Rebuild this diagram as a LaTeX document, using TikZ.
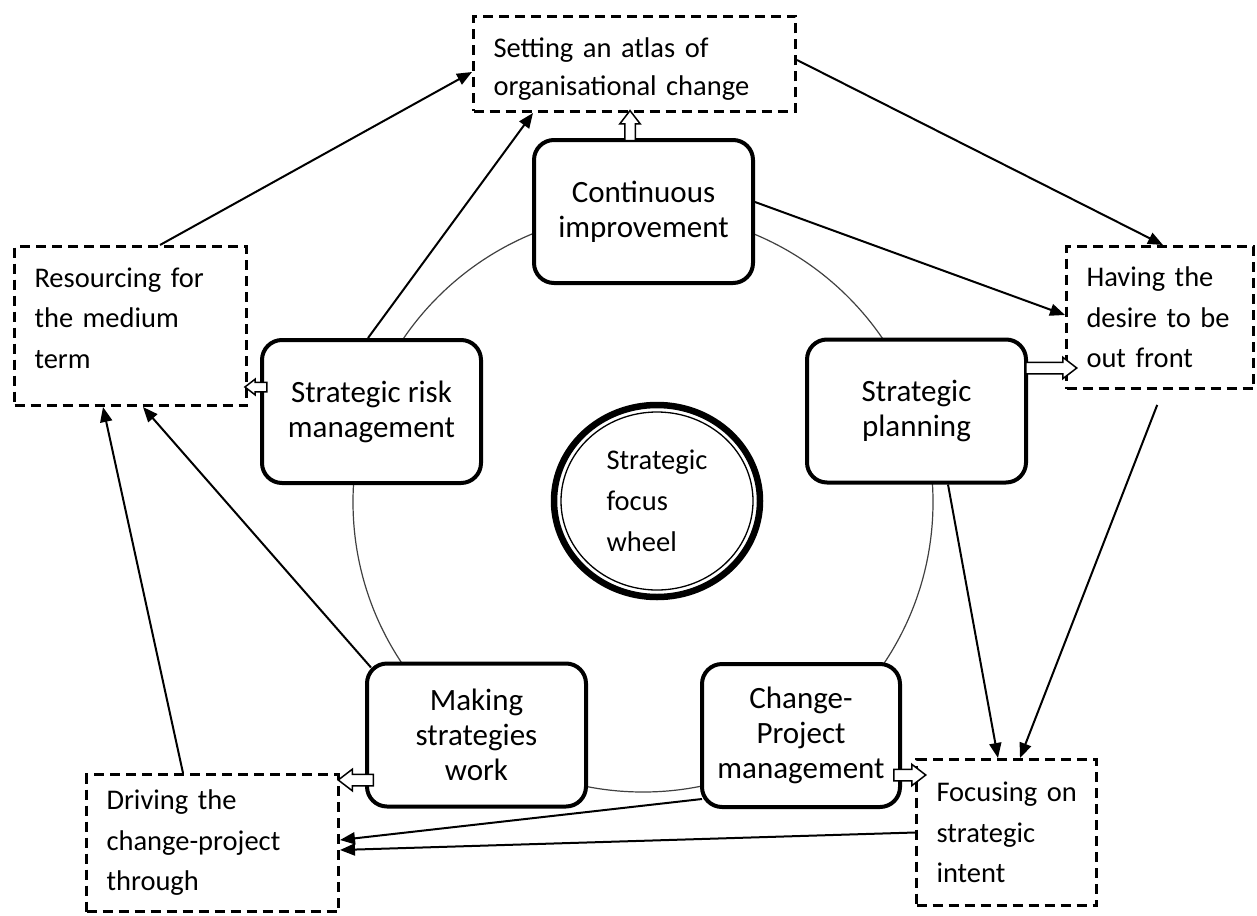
\documentclass[tikz,border=0pt]{standalone}
\usepackage{fontspec}
\setmainfont{Carlito}
\usetikzlibrary{arrows.meta,shapes.geometric,shapes.arrows,calc}
\begin{document}
\begin{tikzpicture}[x=1pt,y=-1pt,
  every node/.style={font=\fontsize{31}{35}\selectfont},
  rbox/.style={draw, line width=4pt, rounded corners=20pt, fill=white, align=center, minimum width=219pt, minimum height=143pt, inner sep=0pt},
  dbox/.style={draw, line width=3pt, dash pattern=on 10pt off 6pt, fill=white, align=left, inner xsep=20pt, inner ysep=0pt, font=\fontsize{28.5}{40.5}\selectfont},
  conn/.style={line width=2pt, -{Triangle[length=15pt,width=12pt]}},
  hollow/.style={single arrow, draw, line width=1.5pt, fill=white, inner xsep=0pt, inner ysep=5pt, single arrow head extend=5pt, single arrow tip angle=75, sloped, allow upside down, anchor=center, font=\fontsize{1}{1}\selectfont}
]
\useasboundingbox (0,0) rectangle (1257,915);

% wheel
\node[circle, draw, line width=1.2pt, draw=black!75, minimum size=580pt, inner sep=0pt] (wheel) at (643,502) {};

% central hub
\node[ellipse, draw, line width=6.5pt, minimum width=206pt, minimum height=192pt, align=left, font=\fontsize{28.5}{41}\selectfont, inner sep=0pt, fill=white] (hub) at (657,501) {Strategic\\focus\\wheel};
\draw[line width=1.3pt] (hub.center) ellipse [x radius=96pt, y radius=89pt];

% rounded boxes
\node[rbox] (cont) at (643.5,211.5) {Continuous\\improvement};
\node[rbox] (plan) at (916.5,411) {Strategic\\planning};
\node[rbox] (risk) at (371.5,411.5) {Strategic risk\\management};
\node[rbox] (mak) at (476.5,735) {Making\\strategies\\work};
\node[rbox, minimum width=198pt] (chg) at (801,735.5) {Change-\\Project\\management};

% dashed boxes
\node[dbox, text width=282pt, minimum height=95pt] (atlas) at (634.5,64) {\mbox{\rule{0pt}{30pt}Setting an atlas of}\\[-2pt]\mbox{organisational change}};
\node[dbox, text width=147pt, minimum height=142pt] (have) at (1160,317.5) {\mbox{Having the}\\\mbox{desire to be}\\\mbox{out front}};
\node[dbox, text width=140pt, minimum height=146pt] (focus) at (1006.5,832.5) {\mbox{Focusing on}\\\mbox{strategic}\\\mbox{intent}};
\node[dbox, text width=212pt, minimum height=137pt] (drive) at (212.5,843) {\mbox{Driving the}\\\mbox{change-project}\\\mbox{through}};
\node[dbox, text width=192pt, minimum height=159pt] (res) at (130.5,326) {\mbox{Resourcing for}\\\mbox{the medium}\\\mbox{term}\\[-24pt]\mbox{}};

% connectors
\draw[conn] ([xshift=29.5pt]res.north) -- ([yshift=-8pt]atlas.west);
\draw[conn] ([xshift=-3.5pt]risk.north) -- ([xshift=-101.5pt]atlas.south);
\draw[conn] ([yshift=4pt]atlas.east) -- ([xshift=3pt]have.north);
\draw[conn] ([yshift=9.5pt]cont.east) -- ([yshift=2.5pt]have.west);
\draw[conn, shorten <=16pt] ([xshift=3pt]have.south) -- ([xshift=13.5pt]focus.north);
\draw[conn] ([xshift=31.5pt]plan.south) -- ([xshift=-8.5pt]focus.north);
\draw[conn] ([xshift=2pt,yshift=10pt]chg.south west) -- ([yshift=3pt]drive.east);
\draw[conn] (focus.west) -- ([yshift=-7pt]drive.east);
\draw[conn] ([xshift=6pt,yshift=-6pt]mak.north west) -- ([xshift=12.5pt]res.south);
\draw[conn] ([xshift=-29.5pt]drive.north) -- ([xshift=-27.5pt]res.south);

% hollow arrows
\path ([xshift=-13.5pt,yshift=-6pt]cont.north) -- ([xshift=-4.5pt,yshift=-1pt]atlas.south) node[hollow, midway, minimum height=30pt, inner ysep=4.5pt]{};
\path ([xshift=-6pt,yshift=43pt]plan.east) -- ([xshift=8pt,yshift=-50.5pt]have.west) node[hollow, midway, minimum height=51pt]{};
\path ([xshift=-12pt,yshift=-39.5pt]chg.east) -- ([xshift=7pt,yshift=57.5pt]focus.west) node[hollow, midway, minimum height=32pt]{};
\path ([xshift=12pt,yshift=-45pt]mak.west) -- ([xshift=2pt,yshift=63pt]drive.east) node[hollow, midway, minimum height=35pt]{};
\path ([xshift=10pt,yshift=24.5pt]risk.west) -- ([yshift=-61pt]res.east) node[hollow, midway, minimum height=22pt, inner ysep=4pt, single arrow head extend=3pt]{};
\end{tikzpicture}
\end{document}
